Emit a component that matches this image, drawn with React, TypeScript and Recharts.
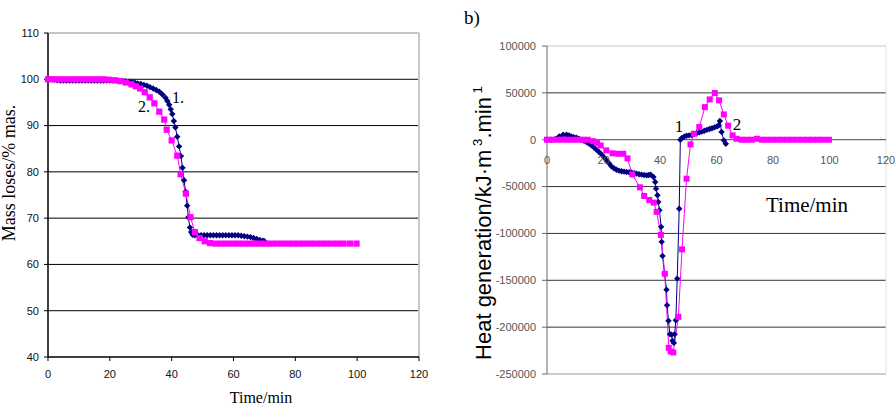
import React from 'react';
import { LineChart, Line, XAxis, YAxis, CartesianGrid, ReferenceLine, ReferenceDot } from 'recharts';

const NAVY = '#000080';
const PINK = '#ff00ff';
const SERIF = '"Liberation Serif", "Times New Roman", serif';
const SANS = '"Liberation Sans", Arial, sans-serif';

// a) mass loss (% mas.) against time (min)
const massCurve1: [number, number][] = [
  [0, 100], [1, 100], [2, 99.9], [3, 99.8], [4, 99.7], [5, 99.7], [6, 99.7], [7, 99.7], [8, 99.7],
  [9, 99.7], [10, 99.7], [11, 99.7], [12, 99.7], [13, 99.7], [14, 99.7], [15, 99.7], [16, 99.7],
  [17, 99.7], [18, 99.7], [19, 99.7], [20, 99.7], [21, 99.7], [22, 99.7], [23, 99.7], [24, 99.7],
  [25, 99.6], [26, 99.5], [27, 99.4], [28, 99.3], [29, 99.1], [30, 99.0], [31, 98.8], [32, 98.6],
  [33, 98.3], [34, 98.0], [35, 97.7], [36, 97.3], [37, 96.7], [38, 96.0], [38.6, 95.3], [39.2, 94.5],
  [39.7, 93.5], [40.2, 92.5], [40.7, 91.0], [41.2, 89.6], [41.8, 87.6], [42.4, 85.5], [43, 83.4],
  [43.5, 80.9], [44, 78.2], [44.5, 75.7], [45, 72.7], [45.4, 70.2], [45.9, 68.0], [46.3, 67.0],
  [46.8, 66.4], [47.5, 66.3], [48.5, 66.3], [49.5, 66.3], [50.5, 66.3], [51.5, 66.3], [52.5, 66.3],
  [53.5, 66.3], [54.5, 66.3], [55.5, 66.3], [56.5, 66.3], [57.5, 66.3], [58.5, 66.3], [59.5, 66.3],
  [60.5, 66.3], [61.5, 66.3], [62.5, 66.2], [63.5, 66.1], [64.5, 66.0], [65.5, 65.9], [66.5, 65.7],
  [67.5, 65.5], [68.5, 65.3], [69.5, 65.1], [70, 65.0],
];

const massCurve2: [number, number][] = [
  [0, 100], [1.8, 100], [3.6, 100], [5.4, 100], [7.2, 100], [9, 100], [10.8, 100], [12.6, 100],
  [14.4, 100], [16.2, 100], [18, 100], [19.8, 99.9], [21.6, 99.8], [23.4, 99.6], [25.2, 99.3],
  [27, 98.9], [28.4, 98.5], [29.8, 98.0], [31.3, 97.2], [32.9, 96.1], [34.4, 94.8], [36, 93.0],
  [37.6, 91.3], [38.4, 89.1], [40, 86.8], [41.8, 83.5], [42.9, 79.5], [44.6, 75.3], [46.1, 70.2],
  [47.5, 67.0], [49, 65.7], [50.7, 65.0], [52.4, 64.6], [54.2, 64.5], [56, 64.5], [57.8, 64.5],
  [59.6, 64.5], [61.4, 64.5], [63.2, 64.5], [65, 64.5], [66.8, 64.5], [68.6, 64.5], [70.4, 64.5],
  [72.2, 64.5], [74, 64.5], [75.8, 64.5], [77.6, 64.5], [79.4, 64.5], [81.2, 64.5], [83, 64.5],
  [84.8, 64.5], [86.6, 64.5], [88.4, 64.5], [90.2, 64.5], [92, 64.5], [93.8, 64.5], [95.6, 64.5],
  [97.7, 64.5], [99.8, 64.5],
];

const massTicksX = [0, 20, 40, 60, 80, 100, 120];
const massTicksY = [40, 50, 60, 70, 80, 90, 100, 110];

// b) heat generation (kJ·m-3·min-1) against time (min)
const heatCurve1: [number, number][] = [
  [0, 0], [1.5, 0], [3, 800], [4.3, 3500], [5.7, 5300], [6.9, 5300], [7.8, 4500], [8.6, 3500],
  [9.5, 2800], [10.4, 2100], [11.3, 1000], [12.2, 0], [13.1, -1200], [14, -2500], [14.9, -4200],
  [15.7, -6000], [16.6, -8200], [17.5, -10600], [18.4, -13000], [19.3, -15600], [20.2, -18800],
  [21.1, -22000], [22, -25300], [22.8, -28400], [23.7, -30400], [24.6, -32000], [25.5, -33000],
  [26.4, -33700], [27.3, -34100], [28.2, -34400], [29.1, -34700], [30, -35100], [30.9, -35600],
  [31.7, -36200], [32.6, -36800], [33.5, -37300], [34.4, -37700], [35.3, -38000], [36, -37600],
  [36.7, -37300], [37.7, -39800], [38.3, -45100], [38.6, -52200], [39.1, -59300], [39.4, -66400],
  [39.8, -75300], [40.4, -93000], [40.6, -109000], [40.9, -124000], [41.6, -143000], [42.3, -160000],
  [42.5, -176600], [43, -193300], [43.5, -207500], [44.1, -208000], [44.4, -214600], [44.9, -216800],
  [45.2, -207500], [45.6, -192600], [46.1, -148200], [46.8, -73600], [47.2, 0], [47.8, 2000],
  [48.6, 3300], [49.4, 4300], [50.3, 4600], [51.2, 5000], [52.1, 6000], [53, 6900], [53.9, 7800],
  [54.8, 8600], [55.7, 9600], [56.6, 10500], [57.5, 11400], [58.4, 12300], [59.3, 13200],
  [60.2, 14200], [60.8, 15500], [61.2, 19900], [61.8, 8200], [62.6, -700], [63.3, -4300],
];

const heatCurve2: [number, number][] = [
  [0, 0], [1.8, 0], [3.6, 0], [5.4, 0], [7.2, 0], [9, 0], [10.8, 0], [12.6, 0], [14.4, 0],
  [16.2, -1500], [17.7, -3600], [19, -6100], [21, -11400], [23.2, -14500], [25.2, -15000],
  [27, -15000], [28.5, -20000], [30.2, -37000], [32.9, -50800], [34.4, -60000], [36.2, -64300],
  [37.8, -67100], [38.8, -77000], [40.3, -101600], [41.7, -143000], [43.1, -222000], [43.8, -226000],
  [44.7, -227000], [46.5, -189000], [47.8, -117000], [49.4, -41600], [50.8, -5000], [52, 6400],
  [53.9, 13500], [55.9, 34800], [57.6, 43000], [59.4, 49800], [60.9, 42000], [62.6, 27000],
  [64.1, 15000], [65.7, 4600], [67.1, 1000], [68.9, 0], [70.7, 0], [72.5, 0], [74.3, 1000],
  [76.1, 0], [77.9, 0], [79.7, 0], [81.5, 0], [83.3, 0], [85.1, 0], [86.9, 0], [88.7, 0], [90.5, 0],
  [92.3, 0], [94.1, 0], [95.9, 0], [97.7, 0], [99.8, 0],
];

const heatTicksX = [0, 20, 40, 60, 80, 100, 120];
const heatTicksY = [-250000, -200000, -150000, -100000, -50000, 0, 50000, 100000];

const toRows = (pairs: [number, number][]) => pairs.map(([t, v]) => ({ t, v }));

const diamondDot = (r: number) => (props: any) => {
  const { cx, cy, index } = props;
  if (cx == null || cy == null) return <g key={`d${index}`} />;
  return (
    <path
      key={`d${index}`}
      d={`M${cx},${cy - r}L${cx + r},${cy}L${cx},${cy + r}L${cx - r},${cy}Z`}
      fill={NAVY}
      stroke="none"
    />
  );
};

const squareDot = (s: number) => (props: any) => {
  const { cx, cy, index } = props;
  if (cx == null || cy == null) return <g key={`s${index}`} />;
  return <rect key={`s${index}`} x={cx - s / 2} y={cy - s / 2} width={s} height={s} fill={PINK} stroke="none" />;
};

function Caption({ x, y, size, font = SERIF, rotate = 0, children }: any) {
  return (
    <div
      style={{
        position: 'absolute',
        left: x,
        top: y,
        transform: `translate(-50%, -50%) rotate(${rotate}deg)`,
        fontFamily: font,
        fontSize: size,
        color: '#000',
        whiteSpace: 'nowrap',
        lineHeight: 1,
      }}
    >
      {children}
    </div>
  );
}

function MassChart() {
  return (
    <LineChart width={450} height={420} margin={{ top: 33, right: 31, bottom: 33, left: 8 }}>
      <CartesianGrid vertical={false} stroke="#000" horizontalValues={[50, 60, 70, 80, 90, 100]} />
      <XAxis
        type="number"
        dataKey="t"
        domain={[0, 120]}
        ticks={massTicksX}
        interval={0}
        height={30}
        tickSize={4}
        tickMargin={9}
        axisLine={{ stroke: '#000', strokeWidth: 1.5 }}
        tickLine={{ stroke: '#000' }}
        tick={{ fontSize: 11, fill: '#111', fontFamily: SANS }}
      />
      <YAxis
        type="number"
        domain={[40, 110]}
        ticks={massTicksY}
        interval={0}
        width={40}
        tickSize={4}
        tickMargin={5}
        axisLine={{ stroke: '#000', strokeWidth: 1.5 }}
        tickLine={{ stroke: '#000' }}
        tick={{ fontSize: 11, fill: '#111', fontFamily: SANS }}
      />
      <ReferenceLine y={110} stroke="#8a8a8a" />
      <ReferenceLine x={120} stroke="#c8c8c8" strokeWidth={2} />
      <Line
        data={toRows(massCurve1)}
        dataKey="v"
        type="linear"
        stroke={NAVY}
        strokeWidth={1}
        dot={diamondDot(3.2)}
        activeDot={false}
        isAnimationActive={false}
      />
      <Line
        data={toRows(massCurve2)}
        dataKey="v"
        type="linear"
        stroke={PINK}
        strokeWidth={1}
        dot={squareDot(6.2)}
        activeDot={false}
        isAnimationActive={false}
      />
    </LineChart>
  );
}

function HeatChart() {
  return (
    <LineChart width={445} height={420} margin={{ top: 46, right: 9, bottom: 46, left: 10 }}>
      <CartesianGrid
        vertical={false}
        stroke="#333"
        horizontalValues={[50000, -50000, -100000, -150000, -200000]}
      />
      <XAxis type="number" dataKey="t" domain={[0, 120]} hide />
      <YAxis
        type="number"
        domain={[-250000, 100000]}
        ticks={heatTicksY}
        interval={0}
        width={87}
        tickSize={5}
        tickMargin={6}
        axisLine={{ stroke: '#666' }}
        tickLine={{ stroke: '#666' }}
        tick={{ fontSize: 11, fill: '#555', fontFamily: SANS }}
      />
      <ReferenceLine y={100000} stroke="#c4c4c4" />
      <ReferenceLine y={-250000} stroke="#999" />
      <ReferenceLine x={120} stroke="#e2e2e2" />
      <ReferenceLine y={0} stroke="#444" />
      {heatTicksX.map((v) => (
        <ReferenceDot
          key={v}
          x={v}
          y={0}
          r={0}
          fill="none"
          stroke="none"
          label={{ value: String(v), position: 'bottom', offset: 16, fontSize: 11, fill: '#555', fontFamily: SANS }}
        />
      ))}
      <Line
        data={toRows(heatCurve1)}
        dataKey="v"
        type="linear"
        stroke={NAVY}
        strokeWidth={1}
        dot={diamondDot(3.2)}
        activeDot={false}
        isAnimationActive={false}
      />
      <Line
        data={toRows(heatCurve2)}
        dataKey="v"
        type="linear"
        stroke={PINK}
        strokeWidth={1}
        dot={squareDot(6)}
        activeDot={false}
        isAnimationActive={false}
      />
    </LineChart>
  );
}

export default function App() {
  return (
    <div
      style={{
        position: 'absolute',
        left: 0,
        top: 0,
        width: 895,
        height: 420,
        background: '#fff',
        overflow: 'hidden',
      }}
    >
      <div style={{ position: 'absolute', left: 0, top: 0 }}>
        <MassChart />
      </div>
      <div style={{ position: 'absolute', left: 450, top: 0 }}>
        <HeatChart />
      </div>

      <Caption x={9} y={173} size={18} rotate={-90}>Mass loses/% mas.</Caption>
      <Caption x={261} y={398} size={16}>Time/min</Caption>
      <Caption x={178} y={98} size={16}>1.</Caption>
      <Caption x={144} y={107} size={16}>2.</Caption>

      <Caption x={472} y={17} size={19}>b)</Caption>
      <Caption x={483} y={223} size={22} font={SANS} rotate={-90}>
        Heat generation/kJ·m<span style={{ fontSize: '0.6em', verticalAlign: '0.7em' }}> 3</span>.min
        <span style={{ fontSize: '0.6em', verticalAlign: '0.7em' }}> 1</span>
      </Caption>
      <Caption x={807} y={205} size={21}>Time/min</Caption>
      <Caption x={679} y={126} size={17}>1</Caption>
      <Caption x={737} y={124} size={17}>2</Caption>
    </div>
  );
}
